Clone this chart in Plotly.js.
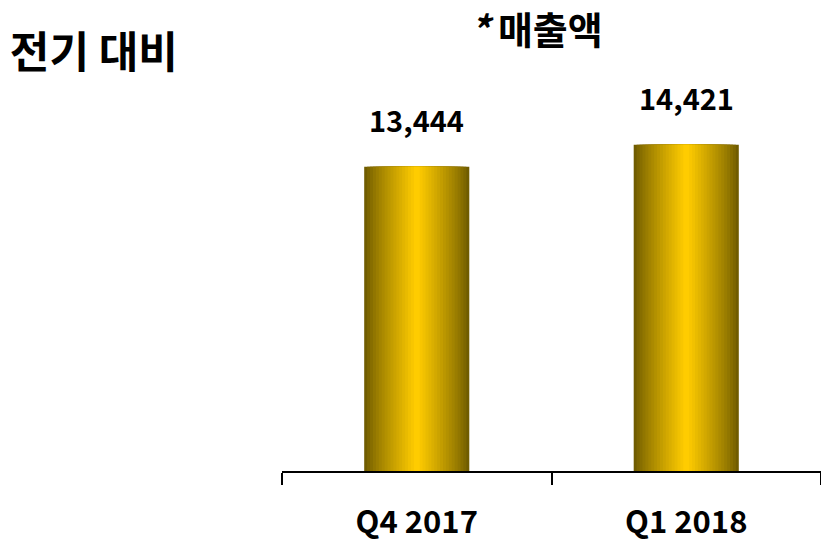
<!DOCTYPE html>
<html>
<head>
<meta charset="utf-8">
<script src="https://cdn.plot.ly/plotly-3.0.1.min.js"></script>
<style>
  html, body { margin: 0; padding: 0; background: #fff; }
  #chart { width: 821px; height: 543px; }
</style>
</head>
<body>
<div id="chart"></div>
<script>
// data
const categories = ['Q4 2017', 'Q1 2018'];
const sales = [13444, 14421];
const labels = ['13,444', '14,421'];

const FONT = '"Noto Sans CJK KR", "Noto Sans", sans-serif';

// gold bars: dark edges fading to bright centre, faked with overlaid bars
const edge = [112, 92, 0];
const centre = [255, 204, 0];
const layers = 18;
const barWidth = 0.39;

const traces = [];
for (let i = 0; i < layers; i++) {
  const t = Math.pow(i / (layers - 1), 0.85);
  const c = edge.map((e, k) => Math.round(e + (centre[k] - e) * t));
  traces.push({
    type: 'bar',
    x: categories,
    y: sales,
    width: barWidth * (1 - i / layers),
    marker: { color: `rgb(${c.join(',')})`, line: { width: 0 } },
    hoverinfo: 'skip',
    showlegend: false
  });
}

const valueNotes = categories.map((cat, i) => ({
  x: cat,
  y: sales[i],
  xref: 'x',
  yref: 'y',
  text: '<b>' + labels[i] + '</b>',
  showarrow: false,
  yanchor: 'bottom',
  yshift: 25,
  font: { family: FONT, size: 29, color: '#000' }
}));

const layout = {
  width: 821,
  height: 543,
  barmode: 'overlay',
  paper_bgcolor: '#fff',
  plot_bgcolor: '#fff',
  margin: { l: 282, r: 0, t: 100, b: 72 },
  title: {
    text: '<b>전기 대비</b>',
    xref: 'container',
    yref: 'container',
    x: 0.012,
    xanchor: 'left',
    y: 1 - 53 / 543,
    yanchor: 'middle',
    font: { family: FONT, size: 43, color: '#000' }
  },
  xaxis: {
    type: 'category',
    showline: true,
    linecolor: '#000',
    linewidth: 2,
    ticks: 'outside',
    tickson: 'boundaries',
    ticklen: 12,
    tickwidth: 2,
    tickcolor: '#000',
    ticklabelstandoff: 23,
    showgrid: false,
    zeroline: false,
    tickfont: { family: FONT, size: 31, color: '#000', weight: 'bold' },
    fixedrange: true
  },
  yaxis: {
    visible: false,
    range: [0, 16400],
    fixedrange: true
  },
  annotations: [
    {
      xref: 'paper',
      yref: 'paper',
      x: (536 - 282) / 539,
      y: (471 - 27) / 371,
      text: '<b><i>*</i>&nbsp;매출액</b>',
      showarrow: false,
      xanchor: 'center',
      yanchor: 'middle',
      font: { family: FONT, size: 38, color: '#000' }
    }
  ].concat(valueNotes)
};

Plotly.newPlot('chart', traces, layout, { displayModeBar: false, staticPlot: true });
</script>
</body>
</html>
